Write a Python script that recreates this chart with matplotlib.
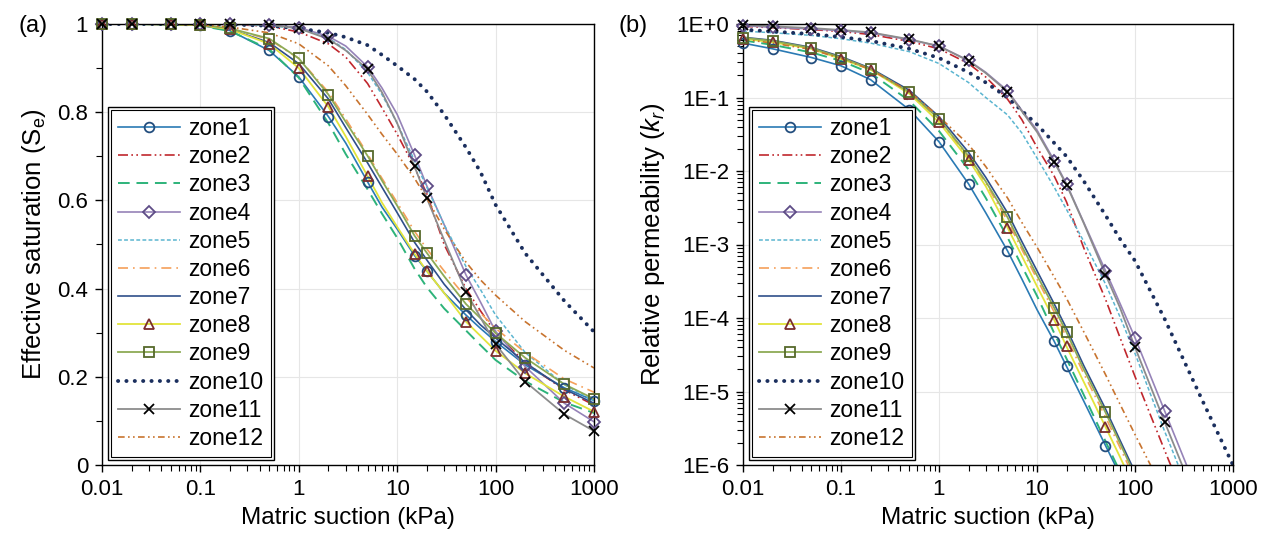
import numpy as np
import matplotlib.pyplot as plt
import matplotlib.ticker as mticker
from matplotlib.lines import Line2D
from matplotlib.patches import Rectangle
from matplotlib.transforms import IdentityTransform

plt.rcParams['font.family'] = ['Liberation Sans', 'DejaVu Sans']
plt.rcParams['mathtext.fontset'] = 'custom'
plt.rcParams['mathtext.rm'] = 'Liberation Sans'
plt.rcParams['mathtext.it'] = 'Liberation Sans:italic'

#
# values
#

suction = [0.01, 0.02, 0.05, 0.1, 0.2, 0.5, 1, 2, 3, 5, 7, 10, 15, 20, 30, 50, 70, 100, 200, 500, 1000]
mark_suction = [0.01, 0.02, 0.05, 0.1, 0.2, 0.5, 1, 2, 5, 15, 20, 50, 100, 200, 500, 1000]
zones = ['zone%d' % (i + 1) for i in range(12)]

# effective saturation (a)
se1 = [1.0, 1.0, 0.999, 0.997, 0.985, 0.94, 0.88, 0.79, 0.73, 0.642, 0.585, 0.535, 0.475, 0.44, 0.39, 0.34, 0.31, 0.28, 0.227, 0.175, 0.146]
se2 = [1.0, 1.0, 1.0, 1.0, 0.999, 0.995, 0.982, 0.955, 0.925, 0.865, 0.81, 0.75, 0.675, 0.615, 0.5, 0.4, 0.35, 0.3, 0.232, 0.17, 0.136]
se3 = [1.0, 1.0, 0.999, 0.996, 0.984, 0.943, 0.878, 0.775, 0.705, 0.625, 0.57, 0.515, 0.445, 0.403, 0.355, 0.305, 0.272, 0.238, 0.19, 0.142, 0.118]
se4 = [1.0, 1.0, 1.0, 1.0, 1.0, 0.998, 0.992, 0.972, 0.95, 0.903, 0.855, 0.795, 0.703, 0.633, 0.545, 0.431, 0.37, 0.303, 0.223, 0.14, 0.098]
se5 = [1.0, 1.0, 1.0, 1.0, 0.999, 0.996, 0.99, 0.968, 0.942, 0.89, 0.84, 0.775, 0.69, 0.63, 0.545, 0.45, 0.398, 0.34, 0.255, 0.182, 0.146]
se6 = [1.0, 1.0, 0.999, 0.997, 0.99, 0.965, 0.922, 0.845, 0.785, 0.705, 0.65, 0.595, 0.53, 0.49, 0.44, 0.38, 0.345, 0.31, 0.255, 0.195, 0.165]
se7 = [1.0, 1.0, 0.999, 0.997, 0.988, 0.958, 0.91, 0.83, 0.765, 0.685, 0.63, 0.572, 0.505, 0.465, 0.41, 0.352, 0.318, 0.288, 0.232, 0.172, 0.14]
se8 = [1.0, 1.0, 0.999, 0.997, 0.988, 0.955, 0.9, 0.812, 0.745, 0.655, 0.595, 0.54, 0.479, 0.44, 0.39, 0.325, 0.293, 0.259, 0.208, 0.155, 0.121]
se9 = [1.0, 1.0, 0.999, 0.998, 0.99, 0.967, 0.922, 0.84, 0.778, 0.701, 0.645, 0.588, 0.52, 0.481, 0.428, 0.365, 0.333, 0.299, 0.243, 0.183, 0.15]
se10 = [1.0, 1.0, 1.0, 1.0, 0.999, 0.996, 0.99, 0.98, 0.97, 0.952, 0.93, 0.905, 0.875, 0.847, 0.795, 0.72, 0.665, 0.59, 0.48, 0.372, 0.302]
se11 = [1.0, 1.0, 1.0, 1.0, 1.0, 0.998, 0.99, 0.966, 0.94, 0.897, 0.845, 0.775, 0.677, 0.605, 0.51, 0.393, 0.335, 0.274, 0.189, 0.115, 0.077]
se12 = [1.0, 1.0, 1.0, 0.998, 0.993, 0.98, 0.955, 0.905, 0.86, 0.795, 0.75, 0.705, 0.65, 0.605, 0.535, 0.46, 0.42, 0.385, 0.325, 0.26, 0.22]

# relative permeability (b)
kr1 = [0.55, 0.46, 0.35, 0.27, 0.175, 0.068, 0.025, 0.0067, 0.0027, 8.2e-4, 3.4e-4, 1.3e-4, 4.8e-5, 2.2e-5, 7.4e-6, 1.84e-6, 7.4e-7, 2.8e-7, 4.3e-8, 3.6e-9, 5.5e-10]
kr2 = [0.93, 0.89, 0.84, 0.79, 0.72, 0.58, 0.46, 0.29, 0.19, 0.095, 0.05, 0.021, 8.5e-3, 3.8e-3, 9e-4, 1.8e-4, 5.5e-5, 1.6e-5, 1.6e-6, 8e-8, 7e-9]
kr3 = [0.6, 0.52, 0.41, 0.315, 0.215, 0.09, 0.035, 0.0105, 0.0043, 1.25e-3, 5.1e-4, 2.0e-4, 6.2e-5, 2.8e-5, 9e-6, 2.1e-6, 8.2e-7, 3e-7, 4.5e-8, 3.6e-9, 5.2e-10]
kr4 = [0.95, 0.9, 0.86, 0.81, 0.76, 0.61, 0.5, 0.32, 0.22, 0.124, 0.067, 0.036, 0.0138, 6.7e-3, 2.0e-3, 4.4e-4, 1.6e-4, 5.4e-5, 5.5e-6, 2.7e-7, 2.8e-8]
kr5 = [0.8, 0.76, 0.7, 0.63, 0.55, 0.42, 0.29, 0.16, 0.1, 0.058, 0.033, 0.015, 6e-3, 3.0e-3, 1.1e-3, 2.9e-4, 1.05e-4, 3.3e-5, 2.9e-6, 1.4e-7, 1.3e-8]
kr6 = [0.64, 0.58, 0.465, 0.345, 0.242, 0.115, 0.049, 0.0152, 6.8e-3, 2.1e-3, 8.6e-4, 3.4e-4, 1.2e-4, 5.5e-5, 1.75e-5, 4.5e-6, 1.75e-6, 6.3e-7, 9.5e-8, 7.5e-9, 1.1e-9]
kr7 = [0.66, 0.6, 0.48, 0.36, 0.25, 0.125, 0.055, 0.018, 8.2e-3, 2.7e-3, 1.1e-3, 4.4e-4, 1.55e-4, 7.2e-5, 2.25e-5, 5.8e-6, 2.2e-6, 8e-7, 1.2e-7, 9.5e-9, 1.4e-9]
kr8 = [0.63, 0.565, 0.46, 0.335, 0.24, 0.112, 0.046, 0.0143, 6.2e-3, 1.7e-3, 7.0e-4, 2.7e-4, 9.4e-5, 4.1e-5, 1.35e-5, 3.3e-6, 1.3e-6, 4.7e-7, 7e-8, 5.5e-9, 8e-10]
kr9 = [0.65, 0.59, 0.47, 0.35, 0.245, 0.118, 0.051, 0.016, 7.2e-3, 2.35e-3, 9.5e-4, 3.8e-4, 1.37e-4, 6.4e-5, 2.0e-5, 5.2e-6, 2.0e-6, 7.2e-7, 1.08e-7, 8.5e-9, 1.25e-9]
kr10 = [0.84, 0.79, 0.73, 0.665, 0.59, 0.46, 0.345, 0.22, 0.16, 0.1, 0.066, 0.043, 0.024, 0.0158, 7.3e-3, 2.5e-3, 1.2e-3, 6e-4, 9.8e-5, 7e-6, 1.0e-6]
kr11 = [0.97, 0.93, 0.88, 0.83, 0.77, 0.62, 0.5, 0.315, 0.215, 0.12, 0.065, 0.034, 0.0132, 6.5e-3, 1.95e-3, 3.9e-4, 1.4e-4, 4.0e-5, 3.9e-6, 1.9e-7, 1.8e-8]
kr12 = [0.62, 0.55, 0.45, 0.34, 0.24, 0.12, 0.055, 0.023, 0.0115, 4.3e-3, 2.0e-3, 9.2e-4, 3.6e-4, 1.85e-4, 6.5e-5, 1.7e-5, 6.8e-6, 2.6e-6, 4.2e-7, 3.6e-8, 5.5e-9]

se_all = [se1, se2, se3, se4, se5, se6, se7, se8, se9, se10, se11, se12]
kr_all = [kr1, kr2, kr3, kr4, kr5, kr6, kr7, kr8, kr9, kr10, kr11, kr12]

#
# line styles
#

colors = ['#2a7ab4', '#c0272d', '#2db37a', '#9683b8', '#5bb5d0', '#f5a05a',
          '#2f4f8a', '#e2e43c', '#8daa55', '#1b2f5e', '#8c8c8c', '#c8742f']
styles = ['-', (0, (6, 2, 1, 2, 1, 2)), (0, (6, 3.5)), '-', (0, (2.5, 1.5)), (0, (6, 3, 1, 3)),
          '-', '-', '-', (0, (0.05, 2.1)), '-', (0, (4, 2, 1, 2, 1, 2))]
widths = [1.2, 1.2, 1.4, 1.2, 1.1, 1.2, 1.2, 1.3, 1.3, 2.8, 1.3, 1.2]
markers = ['o', None, None, 'D', None, None, None, '^', 's', None, 'x', None]
msizes = [7, 0, 0, 6, 0, 0, 0, 7.5, 7, 0, 7, 0]
medge = ['#234e7e', None, None, '#5e4c86', None, None, None, '#7a2e2e', '#56692b', None, 'black', None]

x = np.array(suction)
idx = [suction.index(v) for v in mark_suction]


def draw(ax, data, ymin):
    for i in range(12):
        y = np.array(data[i])
        ax.plot(x, y, color=colors[i], ls=styles[i], lw=widths[i], zorder=2,
                dash_capstyle='round' if i == 9 else 'butt')
        if markers[i] is not None:
            mx = x[idx]
            my = y[idx]
            keep = my >= ymin * 0.99
            ax.plot(mx[keep], my[keep], ls='none', marker=markers[i], ms=msizes[i],
                    mfc='none', mec=medge[i], mew=1.3, clip_on=False, zorder=3)


def legend(ax):
    handles = []
    for i in range(12):
        h = Line2D([], [], color=colors[i], ls=styles[i], lw=widths[i],
                   marker=markers[i], ms=msizes[i], mfc='none',
                   mec=medge[i], mew=1.3)
        if i == 9:
            h.set_dash_capstyle('round')
        handles.append(h)
    leg = ax.legend(handles, zones, loc='lower left', bbox_to_anchor=(0.012, 0.011),
                    borderaxespad=0, fontsize=16.5, labelspacing=0.225, handlelength=2.7,
                    handletextpad=0.35, borderpad=0.45, fancybox=False, framealpha=1,
                    edgecolor='black')
    leg.get_frame().set_linewidth(1.0)
    return leg


fig = plt.figure(figsize=(12.63, 5.44), dpi=100)
ax1 = fig.add_axes([102 / 1263, 79 / 544, 492 / 1263, 441 / 544])
ax2 = fig.add_axes([743 / 1263, 79 / 544, 490 / 1263, 441 / 544])

draw(ax1, se_all, 0.0)
draw(ax2, kr_all, 1e-6)

for ax in (ax1, ax2):
    ax.set_xscale('log')
    ax.set_xlim(0.01, 1000)
    ax.xaxis.set_major_formatter(mticker.FuncFormatter(lambda v, p: '%g' % v))
    ax.xaxis.set_minor_locator(mticker.LogLocator(base=10, subs=np.arange(2, 10), numticks=20))
    ax.xaxis.set_minor_formatter(mticker.NullFormatter())
    ax.grid(True, which='major', color='#e6e6e6', lw=0.8)
    ax.set_axisbelow(True)
    ax.tick_params(which='major', direction='out', length=5, width=1, labelsize=16, pad=5)
    ax.tick_params(which='minor', direction='out', length=4, width=0.8)
    for s in ax.spines.values():
        s.set_linewidth(1.0)
        s.set_color('black')
    ax.set_xlabel('Matric suction (kPa)', fontsize=17.5, labelpad=5)

ax1.set_ylim(0, 1)
ax1.yaxis.set_major_locator(mticker.MultipleLocator(0.2))
ax1.yaxis.set_minor_locator(mticker.MultipleLocator(0.1))
ax1.yaxis.set_major_formatter(mticker.FuncFormatter(lambda v, p: '%g' % round(v, 2)))
ax1.set_ylabel(r'Effective saturation ($\mathrm{S_e}$)', fontsize=18.5, labelpad=7)

ax2.set_yscale('log')
ax2.set_ylim(1e-6, 1)
ax2.yaxis.set_major_formatter(mticker.FuncFormatter(lambda v, p: '1E%+d' % int(round(np.log10(v)))))
ax2.yaxis.set_minor_locator(mticker.LogLocator(base=10, subs=np.arange(2, 10), numticks=20))
ax2.yaxis.set_minor_formatter(mticker.NullFormatter())
ax2.set_ylabel(r'Relative permeability ($k_r$)', fontsize=18.5, labelpad=7)

leg1 = legend(ax1)
leg2 = legend(ax2)

fig.text(18 / 1263, 1 - 26 / 544, '(a)', fontsize=17, va='center', ha='left')
fig.text(618 / 1263, 1 - 26 / 544, '(b)', fontsize=17, va='center', ha='left')

# inner line of the double legend frame
fig.canvas.draw()
for leg in (leg1, leg2):
    bb = leg.get_window_extent()
    fig.add_artist(Rectangle((bb.x0 + 3, bb.y0 + 3), bb.width - 6, bb.height - 6,
                             transform=IdentityTransform(), fill=False,
                             edgecolor='black', lw=0.8, zorder=10))

fig.savefig('out.png', dpi=100)
